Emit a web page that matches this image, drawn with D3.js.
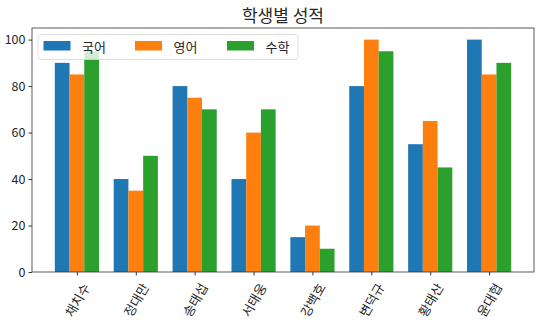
<!DOCTYPE html>
<html>
<head>
<meta charset="utf-8">
<script src="https://cdn.jsdelivr.net/npm/d3@7"></script>
<style>
  html, body { margin: 0; padding: 0; background: #fff; }
  svg { display: block; }
  text { font-family: "Noto Sans CJK KR", "Noto Sans", sans-serif; fill: #262626; }
</style>
</head>
<body>
<svg id="chart" width="544" height="330"></svg>
<script>
// 학생별 과목 점수
const students = ["채치수", "정대만", "송태섭", "서태웅", "강백호", "변덕규", "황태산", "윤대협"];
const subjects = ["국어", "영어", "수학"];
const korean  = [90, 40, 80, 40, 15, 80, 55, 100];
const english = [85, 35, 75, 60, 20, 100, 65, 85];
const math    = [95, 50, 70, 70, 10, 95, 45, 90];
const yTicks  = [0, 20, 40, 60, 80, 100];
const colors  = ["#1f77b4", "#ff7f0e", "#2ca02c"];

const seriesList = [korean, english, math];

const svg = d3.select("#chart");
const plot = { left: 32, right: 534, top: 28, bottom: 272 };
const barW = 0.25;

// x in category units, with 5% padding around the outermost bar edges
const lo = -1.5 * barW, hi = students.length - 1 + 1.5 * barW;
const pad = (hi - lo) * 0.05;
const x = d3.scaleLinear().domain([lo - pad, hi + pad]).range([plot.left, plot.right]);
const y = d3.scaleLinear().domain([0, 105]).range([plot.bottom, plot.top]);

// bars
seriesList.forEach((vals, si) => {
  svg.append("g").selectAll("rect").data(vals).join("rect")
    .attr("x", (d, i) => x(i + (si - 1) * barW - barW / 2))
    .attr("width", (d, i) => x(barW) - x(0))
    .attr("y", d => y(d))
    .attr("height", d => y(0) - y(d))
    .attr("fill", colors[si]);
});

// frame
svg.append("rect")
  .attr("x", plot.left).attr("y", plot.top)
  .attr("width", plot.right - plot.left).attr("height", plot.bottom - plot.top)
  .attr("fill", "none").attr("stroke", "#333").attr("stroke-width", 0.8);

// y axis
const yAxis = svg.append("g")
  .attr("transform", `translate(${plot.left},0)`)
  .call(d3.axisLeft(y).tickValues(yTicks).tickSize(3.5).tickPadding(3));
yAxis.select(".domain").remove();
yAxis.selectAll("line").attr("stroke", "#333");
yAxis.selectAll("text").attr("font-size", 12.5).style("font-family", "'Noto Sans CJK KR', sans-serif").attr("fill", "#262626");

// x axis ticks
const xAxis = svg.append("g")
  .attr("transform", `translate(0,${plot.bottom})`)
  .call(d3.axisBottom(x).tickValues(d3.range(students.length)).tickSize(3.5).tickFormat(""));
xAxis.select(".domain").remove();
xAxis.selectAll("line").attr("stroke", "#333");

// rotated category labels, bounding box centred under each tick
const labelTop = plot.bottom + 9;
const ang = 60 * Math.PI / 180;
students.forEach((name, i) => {
  const t = svg.append("text")
    .attr("font-size", 13)
    .attr("text-anchor", "middle")
    .attr("dominant-baseline", "central")
    .text(name);
  const w = t.node().getComputedTextLength();
  const h = 13;
  const bh = w * Math.sin(ang) + h * Math.cos(ang);
  const cx = x(i), cy = labelTop + bh / 2;
  t.attr("x", cx).attr("y", cy).attr("transform", `rotate(-60,${cx},${cy})`);
});

// title
svg.append("text")
  .attr("x", (plot.left + plot.right) / 2).attr("y", 21.5)
  .attr("text-anchor", "middle").attr("font-size", 17)
  .text("학생별 성적");

// legend
const lg = svg.append("g");
lg.append("rect")
  .attr("x", 38).attr("y", 34.5).attr("width", 260).attr("height", 25).attr("rx", 3)
  .attr("fill", "#fff").attr("fill-opacity", 0.8)
  .attr("stroke", "#d5d5d5").attr("stroke-width", 0.8);
const legendX = [43.5, 135, 227];
subjects.forEach((s, i) => {
  lg.append("rect")
    .attr("x", legendX[i]).attr("y", 41).attr("width", 27).attr("height", 9.5)
    .attr("fill", colors[i]);
  lg.append("text")
    .attr("x", legendX[i] + 38.5).attr("y", 46).attr("dominant-baseline", "central")
    .attr("font-size", 13).text(s);
});
</script>
</body>
</html>
